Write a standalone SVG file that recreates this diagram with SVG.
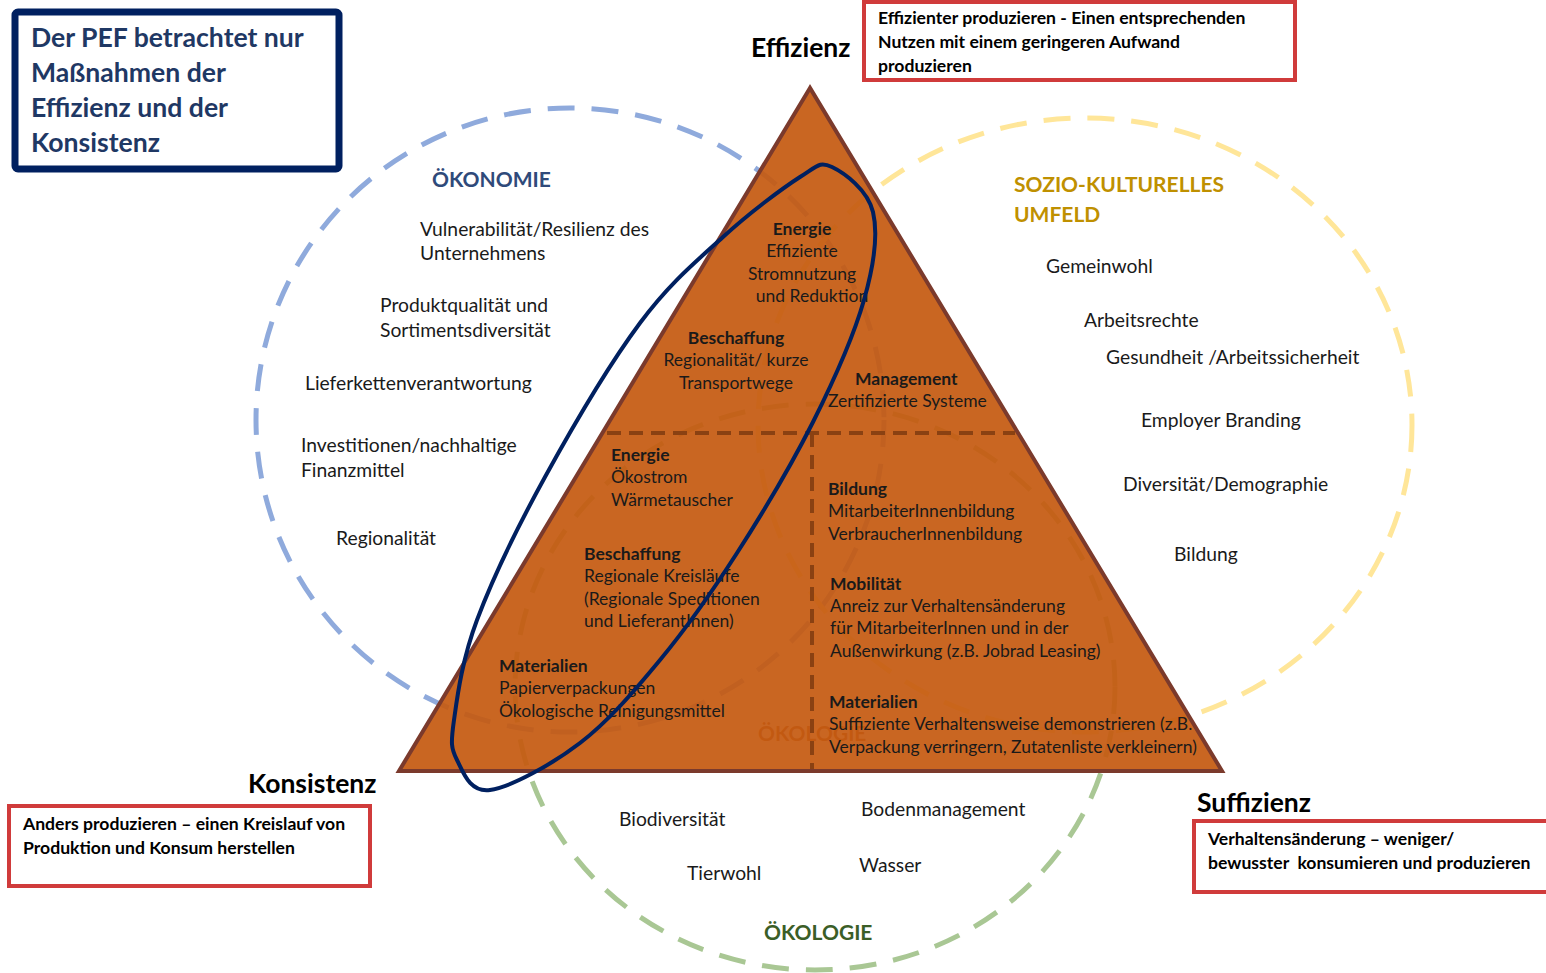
<svg xmlns="http://www.w3.org/2000/svg" width="1546" height="973" viewBox="0 0 1546 973">
<style>
text{font-family:Lato,"Liberation Sans",sans-serif;fill:#1a1a1a}
.c{font-size:19.3px}
.t{font-size:17.5px}
.b{font-weight:bold}
.h{font-size:21px;font-weight:bold}
.big{font-size:26.5px;font-weight:bold;fill:#000}
.box{font-size:17.6px;font-weight:bold;fill:#000}
.pef{font-size:26.6px;font-weight:bold;fill:#1F3864}
.dash{fill:none;stroke-width:5;stroke-dasharray:27 17}
.redbox{fill:#fff;stroke:#D03B3B;stroke-width:4}
.div{stroke:#8A4112;stroke-width:4;stroke-dasharray:14 8;fill:none}
</style>
<rect width="1546" height="973" fill="#fff"/>
<g id="circles">
<ellipse id="c-oekonomie" class="dash" cx="570" cy="420" rx="314" ry="312" stroke="#8FAADC"/>
<ellipse id="c-sozio" class="dash" cx="1085" cy="425" rx="327" ry="307" stroke="#FFE699"/>
<ellipse id="c-oekologie" class="dash" cx="815" cy="687" rx="300" ry="283" stroke="#A9C794"/>
</g>
<text x="758" y="741" class="h" style="fill:#9A4A1A">ÖKOLOGIE</text>
<g id="triangle">
<polygon points="810,88 399,771 1222,771" fill="#C55A11" fill-opacity="0.93" stroke="#7B3A2C" stroke-width="4"/>
<line class="div" x1="607" y1="433" x2="1015" y2="433"/>
<line class="div" x1="812" y1="433" x2="812" y2="769"/>
</g>
<g id="triangle-text" class="t">
<g id="t-energie1" text-anchor="middle">
<text x="802" y="235" class="b">Energie</text>
<text x="802" y="257">Effiziente</text>
<text x="802" y="280">Stromnutzung</text>
<text x="812" y="302">und Reduktion</text>
</g>
<g id="t-beschaffung1" text-anchor="middle">
<text x="736" y="344" class="b">Beschaffung</text>
<text x="736" y="366">Regionalität/ kurze</text>
<text x="736" y="389">Transportwege</text>
</g>
<g id="t-management">
<text x="855" y="385" class="b">Management</text>
<text x="828" y="407">Zertifizierte Systeme</text>
</g>
<g id="t-energie2">
<text x="611" y="461" class="b">Energie</text>
<text x="611" y="483">Ökostrom</text>
<text x="611" y="506">Wärmetauscher</text>
</g>
<g id="t-beschaffung2">
<text x="584" y="560" class="b">Beschaffung</text>
<text x="584" y="582">Regionale Kreisläufe</text>
<text x="584" y="605">(Regionale Speditionen</text>
<text x="584" y="627">und LieferantInnen)</text>
</g>
<g id="t-materialien1">
<text x="499" y="672" class="b">Materialien</text>
<text x="499" y="694">Papierverpackungen</text>
<text x="499" y="717">Ökologische Reinigungsmittel</text>
</g>
<g id="t-bildung">
<text x="828" y="495" class="b">Bildung</text>
<text x="828" y="517">MitarbeiterInnenbildung</text>
<text x="828" y="540">VerbraucherInnenbildung</text>
</g>
<g id="t-mobilitaet">
<text x="830" y="590" class="b">Mobilität</text>
<text x="830" y="612">Anreiz zur Verhaltensänderung</text>
<text x="830" y="634">für MitarbeiterInnen und in der</text>
<text x="830" y="657">Außenwirkung (z.B. Jobrad Leasing)</text>
</g>
<g id="t-materialien2">
<text x="829" y="708" class="b">Materialien</text>
<text x="829" y="730">Suffiziente Verhaltensweise demonstrieren (z.B.</text>
<text x="829" y="753">Verpackung verringern, Zutatenliste verkleinern)</text>
</g>
</g>
<g id="connectors">
<path id="pef-ellipse" fill="none" stroke="#002060" stroke-width="4" d="M832,167 C844.2,172.8 867.7,189.8 873,212 C878.3,234.2 874,265 864,300 C854,335 834.2,379.8 813,422 C791.8,464.2 762.5,513.3 737,553 C711.5,592.7 686.2,628.3 660,660 C633.8,691.7 608.3,721.3 580,743 C551.7,764.7 510.5,787.2 490,790 C469.5,792.8 463,771.7 457,760 C451,748.3 450.7,743.3 454,720 C457.3,696.7 461.8,660.5 477,620 C492.2,579.5 517.8,526.5 545,477 C572.2,427.5 610.3,363 640,323 C669.7,283 696.3,261.3 723,237 C749.7,212.7 781.8,188.7 800,177 C818.2,165.3 819.8,161.2 832,167 Z"/>
</g>
<g id="oekonomie" class="c">
<text x="432" y="187" class="h" style="fill:#2F4A7A">ÖKONOMIE</text>
<text x="420" y="236">Vulnerabilität/Resilienz des</text>
<text x="420" y="260">Unternehmens</text>
<text x="380" y="312">Produktqualität und</text>
<text x="380" y="337">Sortimentsdiversität</text>
<text x="305" y="390">Lieferkettenverantwortung</text>
<text x="301" y="452">Investitionen/nachhaltige</text>
<text x="301" y="477">Finanzmittel</text>
<text x="336" y="545">Regionalität</text>
</g>
<g id="sozio" class="c">
<text x="1014" y="192" class="h" style="fill:#BF9000">SOZIO-KULTURELLES</text>
<text x="1014" y="222" class="h" style="fill:#BF9000">UMFELD</text>
<text x="1046" y="273">Gemeinwohl</text>
<text x="1084" y="327">Arbeitsrechte</text>
<text x="1106" y="364">Gesundheit /Arbeitssicherheit</text>
<text x="1141" y="427">Employer Branding</text>
<text x="1123" y="491">Diversität/Demographie</text>
<text x="1174" y="561">Bildung</text>
</g>
<g id="oekologie" class="c">
<text x="619" y="826">Biodiversität</text>
<text x="861" y="816">Bodenmanagement</text>
<text x="687" y="880">Tierwohl</text>
<text x="859" y="872">Wasser</text>
<text x="764" y="940" class="h" style="fill:#3B5E27">ÖKOLOGIE</text>
</g>
<g id="pef-box">
<rect x="15" y="12" width="324" height="157" rx="3" fill="#fff" stroke="#002060" stroke-width="7"/>
<text x="31" y="47" class="pef">Der PEF betrachtet nur</text>
<text x="31" y="82" class="pef">Maßnahmen der</text>
<text x="31" y="117" class="pef">Effizienz und der</text>
<text x="31" y="152" class="pef">Konsistenz</text>
</g>
<g id="effizienz">
<text x="751" y="57" class="big">Effizienz</text>
<rect x="864" y="2" width="431" height="78" class="redbox"/>
<text x="878" y="24" class="box">Effizienter produzieren - Einen entsprechenden</text>
<text x="878" y="48" class="box">Nutzen mit einem geringeren Aufwand</text>
<text x="878" y="72" class="box">produzieren</text>
</g>
<g id="konsistenz">
<text x="248" y="793" class="big">Konsistenz</text>
<rect x="9" y="806" width="361" height="80" class="redbox"/>
<text x="23" y="830" class="box">Anders produzieren – einen Kreislauf von</text>
<text x="23" y="854" class="box">Produktion und Konsum herstellen</text>
</g>
<g id="suffizienz">
<text x="1197" y="812" class="big">Suffizienz</text>
<rect x="1194" y="821" width="360" height="71" class="redbox"/>
<text x="1208" y="845" class="box">Verhaltensänderung – weniger/</text>
<text x="1208" y="869" class="box" xml:space="preserve">bewusster  konsumieren und produzieren</text>
</g>
</svg>
